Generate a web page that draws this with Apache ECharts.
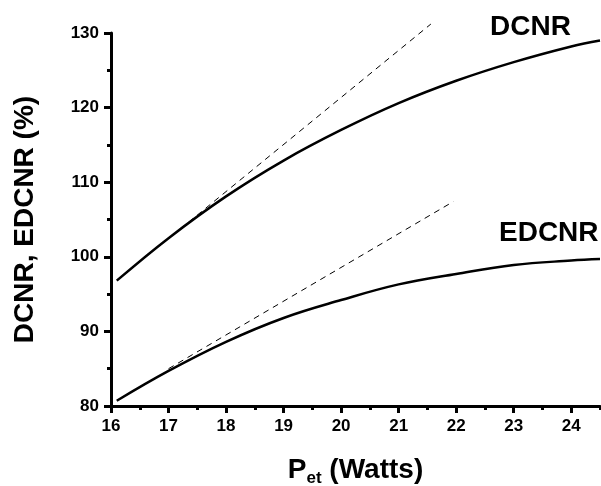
<!DOCTYPE html>
<html>
<head>
<meta charset="utf-8">
<script src="https://cdn.jsdelivr.net/npm/echarts@6/dist/echarts.min.js"></script>
<style>
  html, body { margin: 0; padding: 0; background: #fff; }
  #chart { width: 601px; height: 486px; }
</style>
</head>
<body>
<div id="chart"></div>
<script>
// values
var power = [16.1, 17, 18, 19, 20, 21, 22, 23, 24, 24.5];
var dcnr = [96.8, 102.5, 108.1, 112.9, 117.0, 120.6, 123.6, 126.1, 128.2, 129.0];
var edcnr = [80.7, 84.7, 88.6, 91.8, 94.2, 96.3, 97.7, 98.9, 99.5, 99.7];
// dashed tangents (start / end)
var dcnrTangentX = [17.2, 21.56];
var dcnrTangentY = [103.7, 131.2];
var edcnrTangentX = [17.0, 21.95];
var edcnrTangentY = [85.0, 107.4];
var xMajor = [16, 17, 18, 19, 20, 21, 22, 23, 24];
var xMinor = [16.5, 17.5, 18.5, 19.5, 20.5, 21.5, 22.5, 23.5, 24.5];

var font = '"Liberation Sans", Arial, sans-serif';

function pairs(xs, ys) {
    var out = [];
    for (var i = 0; i < xs.length; i++) {
        out.push([xs[i], ys[i]]);
    }
    return out;
}

var myChart = echarts.init(document.getElementById('chart'));

var option = {
    backgroundColor: '#fff',
    animation: false,
    grid: { left: 111, right: 1, top: 33, bottom: 80, outerBoundsMode: 'none' },
    xAxis: [
        {
            type: 'value',
            min: 16,
            max: 24.5,
            interval: 1,
            name: '{p|P}{s|et}{p| (Watts)}',
            nameLocation: 'middle',
            nameGap: 48,
            nameTextStyle: {
                rich: {
                    p: { fontFamily: font, fontWeight: 'bold', fontSize: 28, color: '#000' },
                    s: { fontFamily: font, fontWeight: 'bold', fontSize: 17, color: '#000', padding: [16, 0, 0, 0] }
                }
            },
            axisLine: { lineStyle: { color: '#000', width: 3 } },
            axisTick: { customValues: xMajor, length: 7, lineStyle: { color: '#000', width: 3 } },
            axisLabel: {
                customValues: xMajor,
                margin: 12,
                fontFamily: font, fontWeight: 'bold', fontSize: 17, color: '#000'
            },
            splitLine: { show: false }
        },
        {
            type: 'value',
            position: 'bottom',
            min: 16,
            max: 24.5,
            axisLine: { show: false },
            axisTick: { customValues: xMinor, length: 4, lineStyle: { color: '#000', width: 3 } },
            axisLabel: { show: false },
            splitLine: { show: false }
        }
    ],
    yAxis: {
        type: 'value',
        min: 80,
        max: 130,
        interval: 10,
        name: 'DCNR, EDCNR (%)',
        nameLocation: 'middle',
        nameGap: 72,
        nameRotate: 90,
        nameTextStyle: { fontFamily: font, fontWeight: 'bold', fontSize: 28, color: '#000' },
        axisLine: { show: true, lineStyle: { color: '#000', width: 3 } },
        axisTick: { show: true, length: 7, lineStyle: { color: '#000', width: 3 } },
        minorTick: { show: true, splitNumber: 2, length: 4, lineStyle: { color: '#000', width: 3 } },
        axisLabel: { margin: 12, fontFamily: font, fontWeight: 'bold', fontSize: 17, color: '#000' },
        splitLine: { show: false }
    },
    series: [
        {
            name: 'DCNR',
            type: 'line',
            data: pairs(power, dcnr),
            smooth: 0.4,
            symbol: 'none',
            lineStyle: { color: '#000', width: 2.5 }
        },
        {
            name: 'EDCNR',
            type: 'line',
            data: pairs(power, edcnr),
            smooth: 0.4,
            symbol: 'none',
            lineStyle: { color: '#000', width: 2.5 }
        },
        {
            name: 'DCNR tangent',
            type: 'line',
            data: pairs(dcnrTangentX, dcnrTangentY),
            symbol: 'none',
            clip: false,
            lineStyle: { color: '#000', width: 1, type: [6, 5] }
        },
        {
            name: 'EDCNR tangent',
            type: 'line',
            data: pairs(edcnrTangentX, edcnrTangentY),
            symbol: 'none',
            lineStyle: { color: '#000', width: 1, type: [6, 5] }
        }
    ],
    graphic: [
        {
            type: 'text', left: 490, top: 13,
            style: { text: 'DCNR', fontFamily: font, fontWeight: 'bold', fontSize: 28, fill: '#000' }
        },
        {
            type: 'text', left: 499, top: 219,
            style: { text: 'EDCNR', fontFamily: font, fontWeight: 'bold', fontSize: 28, fill: '#000' }
        }
    ]
};

myChart.setOption(option);
</script>
</body>
</html>
